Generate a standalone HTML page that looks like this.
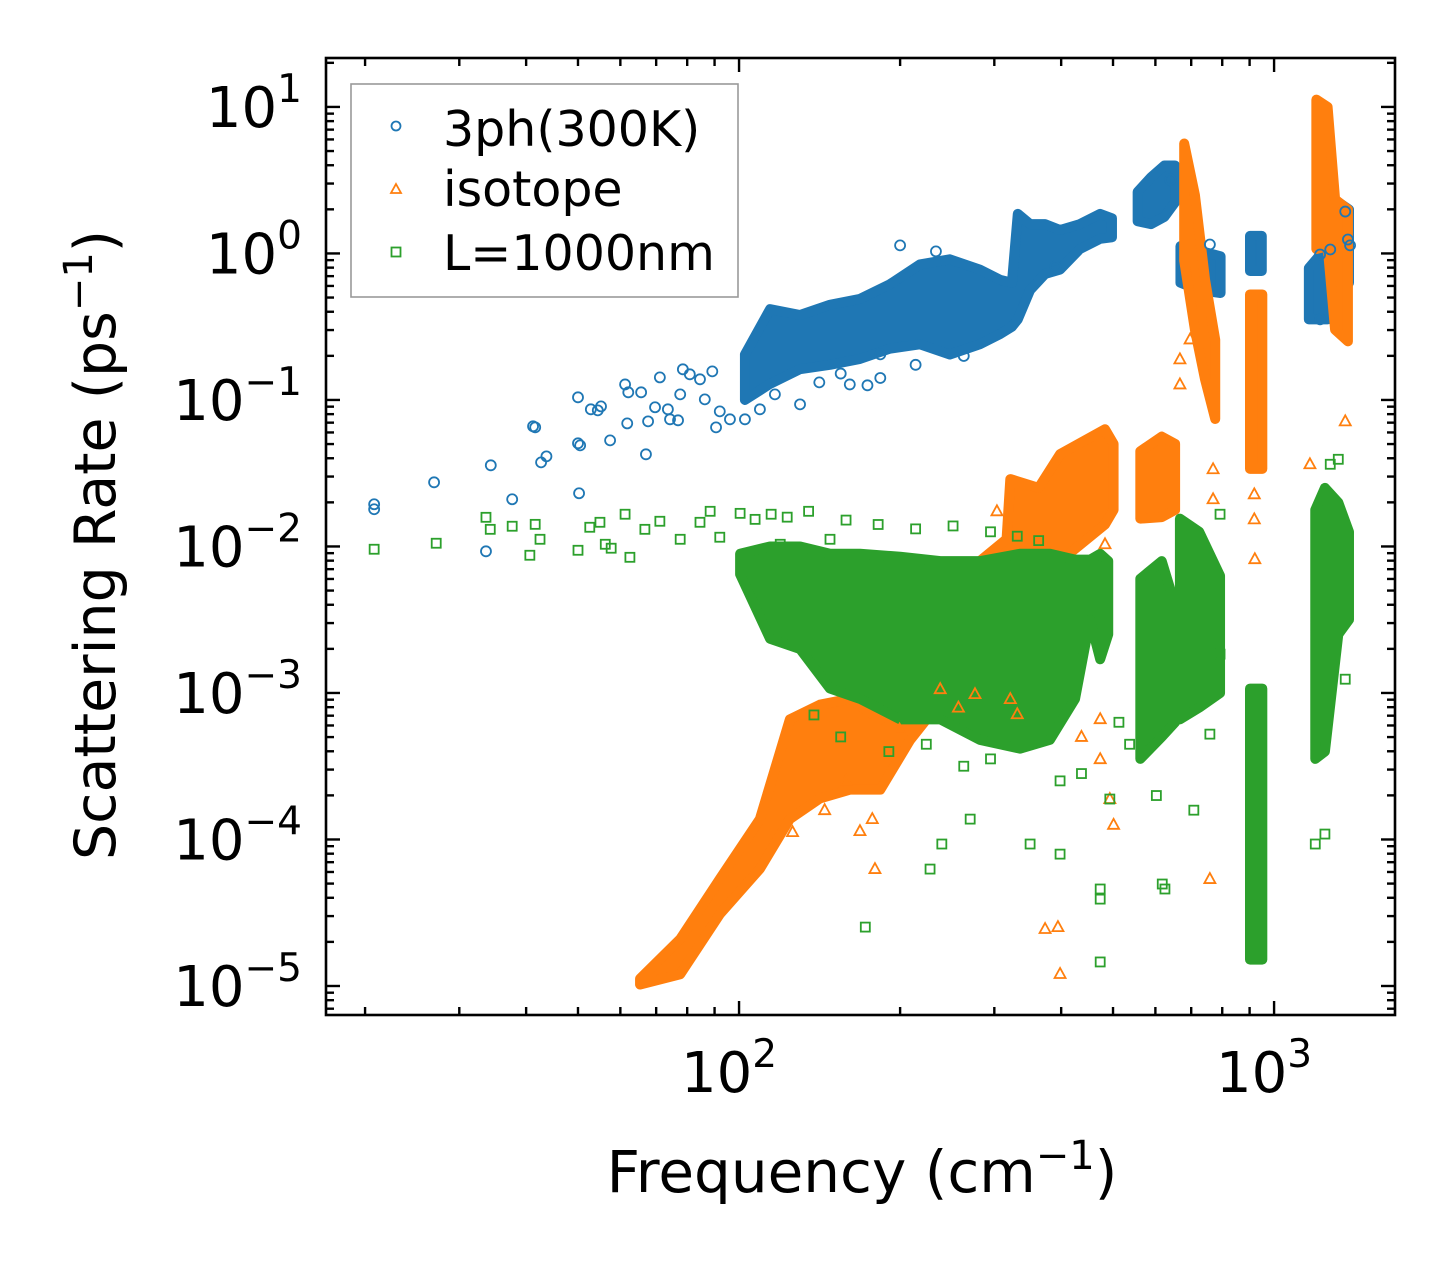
<!DOCTYPE html>
<html><head><meta charset="utf-8"><style>
html,body{margin:0;padding:0;background:#fff;}
svg{display:block;font-family:"DejaVu Sans","Liberation Sans",sans-serif;}
</style></head><body>
<svg id="chart" width="1455" height="1265" viewBox="0 0 1455 1265" xmlns="http://www.w3.org/2000/svg">
<rect width="1455" height="1265" fill="#fff"/>
<defs><clipPath id="clip"><rect x="326" y="58" width="1069" height="957"/></clipPath></defs>
<g id="bands" clip-path="url(#clip)"></g>
<g id="marks" clip-path="url(#clip)"></g>
<g id="axes"></g>
<g>
<rect x="351" y="84" width="387" height="213" fill="#fff" fill-opacity="0.8" stroke="#999" stroke-width="1.6"/>
<circle cx="396" cy="126" r="4.5" fill="none" stroke="#1f77b4" stroke-width="1.8"/>
<text x="443" y="146" font-size="49">3ph(300K)</text>
<polygon points="396,184 401,193 391,193" fill="none" stroke="#ff7f0e" stroke-width="1.8"/>
<text x="443" y="206" font-size="49">isotope</text>
<rect x="391.5" y="247.5" width="9" height="9" fill="none" stroke="#2ca02c" stroke-width="1.8"/>
<text x="443" y="270" font-size="49">L=1000nm</text>
</g>
<text x="862" y="1192" font-size="58" text-anchor="middle">Frequency (cm<tspan dy="-23" font-size="40">−1</tspan><tspan dy="23">)</tspan></text>
<text transform="translate(115,545) rotate(-90)" font-size="57" text-anchor="middle">Scattering Rate (ps<tspan dy="-23" font-size="40">−1</tspan><tspan dy="23">)</tspan></text>
</svg>
<script>
// Axis domains in log10 units
const xDomain = [1.228, 3.226];
const yDomain = [-5.198, 1.334];
const xMajorExp = [2, 3];
const yMajorExp = [-5, -4, -3, -2, -1, 0, 1];
const xTickLabels = ["2", "3"];
const yTickLabels = ["−5", "−4", "−3", "−2", "−1", "0", "1"];

// Scattered points: log10(frequency), log10(rate)
const blueLogF = [1.318,1.318,1.430,1.536,1.527,1.576,1.615,1.619,1.630,1.640,1.699,1.699,1.703,1.701,1.723,1.736,1.742,1.759,1.787,1.793,1.791,1.817,1.826,1.830,1.843,1.852,1.867,1.871,1.886,1.890,1.895,1.908,1.927,1.936,1.950,1.957,1.964,1.983,2.011,2.039,2.067,2.114,2.207,2.264,2.264,2.301,2.368,2.591,2.806,2.806,2.880,3.086,3.086,3.105,3.133,3.138,3.142,2.150,2.190,2.240,2.330,2.420];
const blueLogR = [-1.712,-1.746,-1.562,-1.446,-2.033,-1.678,-1.180,-1.187,-1.426,-1.385,-0.982,-1.296,-1.310,-1.637,-1.064,-1.071,-1.044,-1.276,-0.894,-0.948,-1.160,-0.948,-1.371,-1.146,-1.050,-0.846,-1.064,-1.132,-1.139,-0.962,-0.791,-0.825,-0.859,-0.996,-0.805,-1.187,-1.078,-1.132,-1.132,-1.064,-0.962,-1.030,-0.894,-0.850,-0.689,0.055,0.014,-0.089,0.500,0.505,0.061,-0.007,-0.450,0.027,0.286,0.095,0.055,-0.880,-0.820,-0.900,-0.760,-0.700];

const orangeLogF = [2.482,2.684,2.886,2.886,2.963,2.963,2.964,3.067,3.133,2.880,2.572,2.596,2.600,2.254,2.226,2.249,2.520,2.507,2.675,2.675,2.693,2.441,2.376,2.843,2.824,2.824,2.100,2.160,2.200,2.300,2.410,2.640,2.700];
const orangeLogR = [-1.760,-1.985,-1.473,-1.678,-1.644,-1.815,-2.087,-1.439,-1.146,-4.270,-4.611,-4.598,-4.918,-4.202,-3.943,-3.861,-3.145,-3.042,-3.179,-3.452,-3.724,-3.008,-2.974,-0.587,-0.723,-0.894,-3.950,-3.800,-3.600,-3.250,-3.100,-3.300,-3.900];

const greenLogF = [1.318,1.434,1.527,1.535,1.576,1.609,1.619,1.628,1.699,1.721,1.740,1.750,1.761,1.787,1.796,1.824,1.852,1.890,1.927,1.946,1.964,2.002,2.030,2.077,2.170,2.236,2.357,2.379,2.432,2.544,2.600,2.675,2.675,2.675,2.693,2.791,2.796,2.880,2.899,2.899,3.077,3.095,3.133,3.120,3.105,2.060,2.090,2.130,2.200,2.260,2.330,2.400,2.470,2.520,2.560,2.140,2.190,2.280,2.350,2.420,2.470,2.600,2.640,2.710,2.730,2.780,2.850];
const greenLogR = [-2.019,-1.978,-1.801,-1.883,-1.862,-2.060,-1.849,-1.951,-2.026,-1.869,-1.835,-1.985,-2.012,-1.780,-2.074,-1.883,-1.828,-1.951,-1.835,-1.760,-1.937,-1.774,-1.815,-1.985,-1.951,-4.598,-4.202,-4.031,-3.861,-4.031,-4.100,-4.836,-4.407,-4.338,-3.724,-4.304,-4.338,-3.281,-1.780,-2.735,-4.031,-3.963,-2.906,-1.405,-1.439,-1.780,-1.800,-1.760,-1.820,-1.850,-1.880,-1.860,-1.900,-1.930,-1.960,-3.150,-3.300,-3.400,-3.350,-3.500,-3.450,-3.600,-3.550,-3.200,-3.350,-3.700,-3.800];

// Dense regions: [log10 f, log10 upper rate, log10 lower rate]
const blueBands = [
 [[2.011,-0.69,-1.00],[2.058,-0.38,-0.89],[2.114,-0.42,-0.79],[2.170,-0.35,-0.76],[2.226,-0.31,-0.72],[2.282,-0.21,-0.65],[2.338,-0.075,-0.62],[2.394,-0.04,-0.69],[2.450,-0.11,-0.62],[2.488,-0.18,-0.55],[2.510,-0.20,-0.50],[2.521,0.27,-0.45],[2.544,0.20,-0.25],[2.572,0.20,-0.14],[2.600,0.16,-0.11],[2.637,0.20,0.03],[2.675,0.27,0.10],[2.697,0.24,0.11]],
 [[2.745,0.42,0.22],[2.770,0.52,0.20],[2.795,0.60,0.25],[2.815,0.60,0.35]],
 [[2.825,0.05,-0.20],[2.860,0.02,-0.25],[2.900,-0.02,-0.27]],
 [[2.955,0.12,-0.12],[2.977,0.12,-0.12]],
 [[3.065,-0.10,-0.45],[3.100,0.05,-0.45],[3.120,0.35,-0.30],[3.140,0.30,-0.20]]
];
const orangeBands = [
 [[1.815,-4.95,-4.99],[1.890,-4.68,-4.92],[1.964,-4.27,-4.51],[2.039,-3.86,-4.20],[2.095,-3.18,-3.86],[2.151,-3.08,-3.72],[2.207,-3.04,-3.66],[2.264,-3.18,-3.66],[2.320,-2.97,-3.32],[2.357,-2.95,-3.15]],
 [[2.450,-2.10,-3.00],[2.500,-1.95,-2.90],[2.507,-1.54,-2.30],[2.560,-1.60,-2.20],[2.600,-1.37,-2.10],[2.684,-1.20,-1.85],[2.700,-1.30,-1.75]],
 [[2.750,-1.35,-1.81],[2.790,-1.25,-1.80],[2.815,-1.30,-1.75]],
 [[2.832,0.75,-0.05],[2.852,0.40,-0.52],[2.871,-0.18,-0.86],[2.890,-0.59,-1.13]],
 [[2.955,-0.28,-1.47],[2.978,-0.28,-1.47]],
 [[3.079,1.05,0.03],[3.100,1.00,0.05],[3.114,0.37,-0.52],[3.138,0.30,-0.60]]
];
const greenBands = [
 [[2.002,-2.05,-2.19],[2.058,-2.00,-2.63],[2.114,-2.00,-2.70],[2.170,-2.05,-2.97],[2.226,-2.05,-3.04],[2.301,-2.07,-3.18],[2.376,-2.10,-3.18],[2.450,-2.10,-3.32],[2.525,-2.05,-3.38],[2.581,-2.05,-3.32],[2.628,-2.09,-3.04],[2.656,-2.09,-2.50],[2.675,-2.05,-2.77],[2.690,-2.10,-2.60]],
 [[2.750,-2.22,-3.45],[2.790,-2.10,-3.30],[2.815,-2.40,-3.20]],
 [[2.824,-1.81,-3.18],[2.860,-1.90,-3.10],[2.899,-2.20,-3.00]],
 [[2.955,-2.97,-4.82],[2.978,-2.97,-4.82]],
 [[3.077,-1.75,-3.45],[3.095,-1.60,-3.40],[3.120,-1.70,-2.60],[3.140,-1.90,-2.50]]
];

const X0 = 326, X1 = 1395, Y0 = 58, Y1 = 1015;
function sx(v){ return X0 + (v - xDomain[0]) / (xDomain[1] - xDomain[0]) * (X1 - X0); }
function sy(v){ return Y1 - (v - yDomain[0]) / (yDomain[1] - yDomain[0]) * (Y1 - Y0); }
const NS = "http://www.w3.org/2000/svg";
function mk(tag, attrs, parent){ const e = document.createElementNS(NS, tag); for (const k in attrs) e.setAttribute(k, attrs[k]); parent.appendChild(e); return e; }

const bandsG = document.getElementById('bands');
function drawBands(bands, color, name){
  bands.forEach(function(b){
    const top = b.map(function(p){ return sx(p[0]) + ',' + sy(p[1]); });
    const bot = b.slice().reverse().map(function(p){ return sx(p[0]) + ',' + sy(p[2]); });
    const poly = mk('polygon', {points: top.concat(bot).join(' '), fill: color, stroke: color, 'stroke-width': 10, 'stroke-linejoin': 'round'}, bandsG);
    
    
  });
}
drawBands(blueBands, '#1f77b4', 'band-3ph');
drawBands(orangeBands, '#ff7f0e', 'band-isotope');
drawBands(greenBands, '#2ca02c', 'band-boundary');

const marksG = document.getElementById('marks');
blueLogF.forEach(function(f, i){
  const c = mk('circle', {cx: sx(f), cy: sy(blueLogR[i]), r: 5, fill: 'none', stroke: '#1f77b4', 'stroke-width': 1.8}, marksG);
  
  
});
orangeLogF.forEach(function(f, i){
  const x = sx(f), y = sy(orangeLogR[i]);
  const t = mk('polygon', {points: x + ',' + (y-6) + ' ' + (x+5.5) + ',' + (y+4) + ' ' + (x-5.5) + ',' + (y+4), fill: 'none', stroke: '#ff7f0e', 'stroke-width': 1.8}, marksG);
  
  
});
greenLogF.forEach(function(f, i){
  const x = sx(f), y = sy(greenLogR[i]);
  const s = mk('rect', {x: x-4.5, y: y-4.5, width: 9, height: 9, fill: 'none', stroke: '#2ca02c', 'stroke-width': 1.8}, marksG);
  
  
});

const axesG = document.getElementById('axes');
const frame = mk('rect', {x: X0, y: Y0, width: X1-X0, height: Y1-Y0, fill: 'none', stroke: '#000', 'stroke-width': 2.6}, axesG);


function line(x1,y1,x2,y2){ mk('line', {x1:x1,y1:y1,x2:x2,y2:y2,stroke:'#000','stroke-width':2.4}, axesG); }
for (let d = 1; d <= 3; d++){
  for (let m = 1; m <= 9; m++){
    const v = d + Math.log10(m);
    if (v < xDomain[0] || v > xDomain[1]) continue;
    const x = sx(v), L = (m === 1) ? 14 : 8;
    line(x, Y1, x, Y1 - L); line(x, Y0, x, Y0 + L);
  }
}
for (let d = -6; d <= 1; d++){
  for (let m = 1; m <= 9; m++){
    const v = d + Math.log10(m);
    if (v < yDomain[0] || v > yDomain[1]) continue;
    const y = sy(v), L = (m === 1) ? 14 : 8;
    line(X0, y, X0 + L, y); line(X1, y, X1 - L, y);
  }
}
xMajorExp.forEach(function(e, i){
  const t = mk('text', {x: sx(e) - 10, y: 1092, 'font-size': 56, 'text-anchor': 'middle'}, axesG);
  
  
  t.innerHTML = '10<tspan dy="-25" font-size="39">' + xTickLabels[i] + '</tspan>';
});
yMajorExp.forEach(function(e, i){
  const t = mk('text', {x: 302, y: sy(e) + 20, 'font-size': 56, 'text-anchor': 'end'}, axesG);
  
  
  t.innerHTML = '10<tspan dy="-25" font-size="39">' + yTickLabels[i] + '</tspan>';
});
</script>
</body></html>
